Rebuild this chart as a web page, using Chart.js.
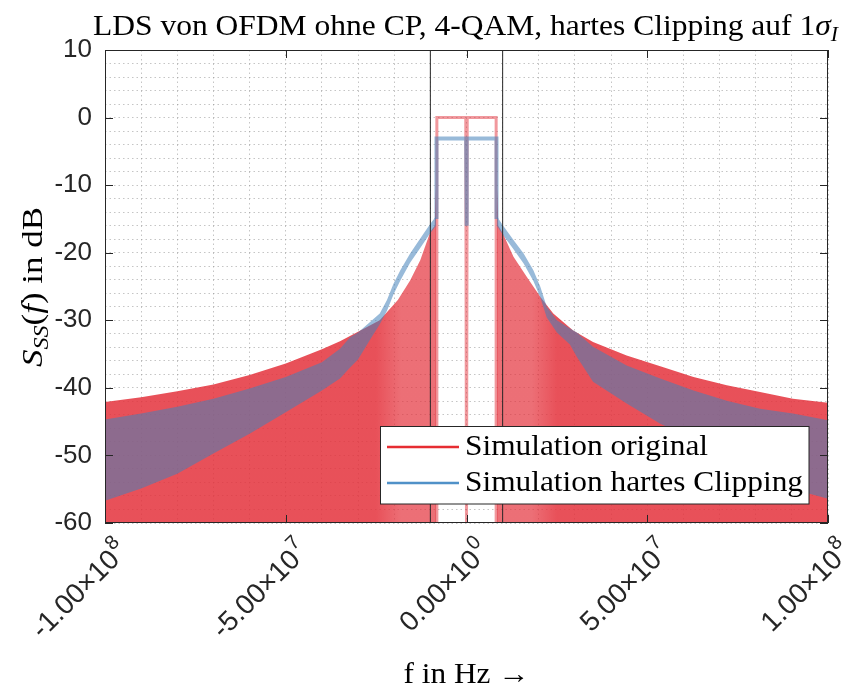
<!DOCTYPE html>
<html><head><meta charset="utf-8">
<script src="https://cdn.jsdelivr.net/npm/chart.js@4.4.0/dist/chart.umd.min.js"></script>
<style>html,body{margin:0;padding:0;background:#fff;overflow:hidden}#wrap{width:843px;height:689px}</style>
</head><body><div id="wrap"><canvas id="c" width="843" height="689"></canvas></div>
<script>
// ---------- tick labels ----------
const xMajorTicks = [-1e8, -5e7, 0, 5e7, 1e8];
const xTickLabels = ['-1.00×10^8', '-5.00×10^7', '0.00×10^0', '5.00×10^7', '1.00×10^8'];
const yMajorTicks = [-60, -50, -40, -30, -20, -10, 0, 10];
const yTickLabels = ['-60', '-50', '-40', '-30', '-20', '-10', '0', '10'];
const seriesNames = ['Simulation original', 'Simulation hartes Clipping'];
const markerFreqs = [-1e7, 1e7];

// ---------- original spectrum (red) ----------
const redBandFreq  = [-8.2e6, -8.2e6, -2e5, 0, 2e5, 8.2e6, 8.2e6];
const redBandLevel = [-60, 0, 0, -60, 0, 0, -60];
const redLeftFreq = [-1.0e8, -9.0e7, -8.0e7, -7.0e7, -6.0e7, -5.0e7, -4.0e7, -3.5e7, -3.0e7, -2.4e7, -1.9e7, -1.56e7, -1.28e7, -1.0e7, -8.8e6, -8.5e6, -8.35e6];
const redLeftTop  = [-42.1, -41.4, -40.5, -39.5, -38.1, -36.4, -34.3, -33.1, -31.7, -30.0, -27.0, -24.1, -21.1, -16.9, -16.0, -10.5, -14.0];
const redRightFreq = [8.35e6, 8.5e6, 8.8e6, 1.0e7, 1.3e7, 1.67e7, 2.04e7, 2.4e7, 2.95e7, 3.5e7, 4.43e7, 5.36e7, 6.28e7, 7.2e7, 8.12e7, 9.03e7, 1.0e8];
const redRightTop  = [-14.0, -10.5, -16.0, -17.1, -20.6, -23.6, -26.5, -29.0, -31.5, -33.2, -35.2, -36.8, -38.4, -39.6, -40.6, -41.6, -42.2];

// ---------- hard clipping spectrum (blue) ----------
const blueBandFreq  = [-8.3e6, -8.3e6, -1e5, 0, 1e5, 8.3e6, 8.3e6];
const blueBandLevel = [-15.0, -3.1, -3.1, -16.0, -3.1, -3.1, -15.0];
const blueLeftFreq  = [-1.0e8, -9.0e7, -8.0e7, -7.0e7, -6.0e7, -5.0e7, -4.0e7, -3.5e7, -3.22e7, -3.0e7, -2.66e7, -2.4e7, -2.2e7, -2.02e7, -1.83e7, -1.56e7, -1.28e7, -1.0e7, -8.4e6];
const blueLeftUpper = [-44.7, -43.8, -42.8, -41.6, -40.1, -38.4, -36.2, -34.2, -32.5, -31.8, -30.2, -29.0, -27.0, -24.6, -22.6, -20.1, -17.9, -15.7, -14.6];
const blueLeftLower = [-56.7, -54.9, -52.7, -49.7, -46.8, -43.6, -40.4, -38.6, -37.0, -35.8, -32.8, -30.6, -28.6, -26.2, -24.1, -21.5, -19.3, -17.1, -16.0];
const blueRightFreq  = [8.4e6, 1.0e7, 1.3e7, 1.58e7, 1.85e7, 2.04e7, 2.22e7, 2.5e7, 2.86e7, 3.05e7, 3.5e7, 4.43e7, 5.36e7, 6.28e7, 7.2e7, 8.12e7, 9.03e7, 1.0e8];
const blueRightUpper = [-14.6, -15.9, -18.1, -20.1, -22.6, -25.0, -28.0, -30.0, -31.2, -31.8, -33.9, -36.7, -38.6, -40.4, -41.9, -43.1, -43.8, -44.8];
const blueRightLower = [-16.0, -17.3, -19.5, -21.6, -24.2, -26.6, -29.6, -31.8, -33.6, -35.4, -39.1, -42.3, -45.3, -47.6, -50.4, -53.0, -55.0, -56.4];

// ---------- styles ----------
const RED_FILL = 'rgba(228,50,60,0.85)';
const RED_FILL_LIGHT = 'rgba(228,50,60,0.7)';
const RED_LINE = 'rgba(228,50,60,0.5)';
const BLUE_FILL = 'rgba(68,130,185,0.55)';
const RED_LEG = 'rgb(230,45,50)';
const BLUE_LEG = 'rgb(80,145,200)';
const AX = '#262626';
const SERIF = '"Liberation Serif", "DejaVu Serif", serif';
const SANS = '"Liberation Sans", Arial, sans-serif';

const pts = (xs, ys) => xs.map((v, i) => ({x: v, y: ys[i]}));
const base = {pointRadius: 0, tension: 0, borderJoinStyle: 'miter'};

// horizontal shading of red wings: slightly lighter close to the band edge (sparse sidelobes)
function redShade(c) {
  const chart = c.chart; const a = chart.chartArea;
  if (!a) return RED_FILL;
  const sx = chart.scales.x;
  const g = chart.ctx.createLinearGradient(a.left, 0, a.right, 0);
  const frac = f => Math.min(1, Math.max(0, (sx.getPixelForValue(f) - a.left) / (a.right - a.left)));
  g.addColorStop(0, RED_FILL);
  g.addColorStop(frac(-2.5e7), RED_FILL);
  g.addColorStop(frac(-1.8e7), RED_FILL_LIGHT);
  g.addColorStop(frac(1.8e7), RED_FILL_LIGHT);
  g.addColorStop(frac(2.5e7), RED_FILL);
  g.addColorStop(1, RED_FILL);
  return g;
}

const datasets = [
  ...markerFreqs.map(f => Object.assign({}, base, {data: [{x: f, y: -60}, {x: f, y: 10}], borderColor: AX, borderWidth: 1, fill: false, order: 0})),
  Object.assign({}, base, {data: pts(blueBandFreq, blueBandLevel), borderColor: BLUE_FILL, borderWidth: 4, fill: false, order: 1}),
  Object.assign({}, base, {data: pts(blueLeftFreq, blueLeftUpper), borderColor: 'transparent', borderWidth: 0, backgroundColor: BLUE_FILL, fill: {target: 4}, order: 2}),
  Object.assign({}, base, {data: pts(blueLeftFreq, blueLeftLower), borderColor: 'transparent', borderWidth: 0, fill: false, order: 2}),
  Object.assign({}, base, {data: pts(blueRightFreq, blueRightUpper), borderColor: 'transparent', borderWidth: 0, backgroundColor: BLUE_FILL, fill: {target: 6}, order: 2}),
  Object.assign({}, base, {data: pts(blueRightFreq, blueRightLower), borderColor: 'transparent', borderWidth: 0, fill: false, order: 2}),
  Object.assign({}, base, {data: pts(redBandFreq, redBandLevel), borderColor: RED_LINE, borderWidth: 3, fill: false, order: 3}),
  Object.assign({}, base, {data: pts(redLeftFreq, redLeftTop), borderColor: 'transparent', borderWidth: 0, backgroundColor: redShade, fill: 'start', order: 4}),
  Object.assign({}, base, {data: pts(redRightFreq, redRightTop), borderColor: 'transparent', borderWidth: 0, backgroundColor: redShade, fill: 'start', order: 4})
];

function drawRich(ctx, parts, size, x, y, targetW, align) {
  const fonts = parts.map(p => `${p.it ? 'italic ' : ''}${p.sub ? Math.round(size * 0.7) : size}px ${SERIF}`);
  let w = 0; const ws = [];
  parts.forEach((p, i) => { ctx.font = fonts[i]; const m = ctx.measureText(p.t).width; ws.push(m); w += m; });
  const sx = targetW ? targetW / w : 1;
  const total = w * sx;
  let start = align === 'center' ? x - total / 2 : x;
  ctx.save();
  ctx.translate(start, y);
  ctx.scale(sx, 1);
  ctx.textAlign = 'left'; ctx.textBaseline = 'alphabetic';
  let cx = 0;
  parts.forEach((p, i) => { ctx.font = fonts[i]; ctx.fillText(p.t, cx, p.sub ? size * 0.22 : 0); cx += ws[i]; });
  ctx.restore();
  return sx;
}

const deco = {
  id: 'deco',
  afterDatasetsDraw(chart) {
    const {ctx, chartArea: a, scales: {x, y}} = chart;
    ctx.save();
    ctx.strokeStyle = AX; ctx.lineWidth = 1;
    ctx.strokeRect(a.left + 0.5, a.top + 0.5, a.right - a.left - 1, a.bottom - a.top - 1);
    ctx.beginPath();
    xMajorTicks.forEach(v => { const px = Math.round(x.getPixelForValue(v)) + 0.5;
      ctx.moveTo(px, a.bottom); ctx.lineTo(px, a.bottom - 8); ctx.moveTo(px, a.top); ctx.lineTo(px, a.top + 8); });
    yMajorTicks.forEach(v => { const py = Math.round(y.getPixelForValue(v)) + 0.5;
      ctx.moveTo(a.left, py); ctx.lineTo(a.left + 8, py); ctx.moveTo(a.right, py); ctx.lineTo(a.right - 8, py); });
    ctx.stroke();
    ctx.restore();
  },
  afterDraw(chart) {
    const {ctx, chartArea: a, scales: {x}} = chart;
    ctx.save();
    ctx.fillStyle = AX;
    // rotated x tick labels with raised exponent
    xMajorTicks.forEach((v, i) => {
      const [mant, ex] = xTickLabels[i].split('^');
      const px = x.getPixelForValue(v);
      ctx.save();
      ctx.translate(px + 16, a.bottom + 38);
      ctx.rotate(-Math.PI / 4);
      ctx.textBaseline = 'alphabetic'; ctx.textAlign = 'left';
      ctx.font = `28px ${SANS}`;
      const mw = ctx.measureText(mant).width;
      ctx.fillText(mant, -mw, 0);
      ctx.font = `20px ${SANS}`;
      ctx.fillText(ex, 1, -13);
      ctx.restore();
    });
    ctx.fillStyle = '#000';
    // title
    drawRich(ctx, [{t: 'LDS von OFDM ohne CP, 4-QAM, hartes Clipping auf 1'}, {t: 'σ', it: true}, {t: 'I', it: true, sub: true}], 29, 93, 35, 745, 'left');
    // x label
    drawRich(ctx, [{t: 'f in Hz →'}], 29, (a.left + a.right) / 2, 683, 126, 'center');
    // y label
    ctx.save();
    ctx.translate(42, 367);
    ctx.rotate(-Math.PI / 2);
    drawRich(ctx, [{t: 'S', it: true}, {t: 'SS', it: true, sub: true}, {t: '('}, {t: 'f', it: true}, {t: ') in dB'}], 29, 0, 0, 160, 'left');
    ctx.restore();
    // legend
    const lx = 380.5, ly = 426.5, lw = 428.5, lh = 77.5;
    ctx.fillStyle = '#fff'; ctx.fillRect(lx, ly, lw, lh);
    ctx.strokeStyle = AX; ctx.lineWidth = 1; ctx.strokeRect(lx, ly, lw, lh);
    ctx.lineWidth = 2.5;
    ctx.strokeStyle = RED_LEG; ctx.beginPath(); ctx.moveTo(387, 447); ctx.lineTo(459, 447); ctx.stroke();
    ctx.strokeStyle = BLUE_LEG; ctx.beginPath(); ctx.moveTo(387, 483); ctx.lineTo(459, 483); ctx.stroke();
    ctx.fillStyle = '#000';
    const sx = drawRich(ctx, [{t: seriesNames[1]}], 29, 465, 491, 338, 'left');
    ctx.font = `29px ${SERIF}`;
    const w0 = ctx.measureText(seriesNames[0]).width * sx;
    drawRich(ctx, [{t: seriesNames[0]}], 29, 465, 455, w0, 'left');
    ctx.restore();
  }
};

const findLabel = (v, vals, labels) => { const i = vals.findIndex(t => Math.abs(t - v) < 1e-6 * Math.max(1, Math.abs(t))); return i >= 0 ? labels[i] : ''; };

new Chart(document.getElementById('c'), {
  type: 'line',
  data: {datasets},
  plugins: [deco],
  options: {
    responsive: false, animation: false, devicePixelRatio: 1,
    layout: {padding: {top: 50, right: 15, left: 0, bottom: 0}},
    plugins: {legend: {display: false}, tooltip: {enabled: false}, title: {display: false}},
    elements: {line: {borderCapStyle: 'butt'}},
    scales: {
      x: {
        type: 'linear', min: -1e8, max: 1e8,
        afterFit(s) { s.height = 166; s.paddingLeft = 0; s.paddingRight = 0; },
        ticks: {stepSize: 1e7, autoSkip: false, display: false, maxRotation: 0},
        grid: {color: 'rgba(150,150,150,0.55)', lineWidth: 1, drawTicks: false},
        border: {display: false, dash: [1.5, 3]}
      },
      y: {
        type: 'linear', min: -60, max: 10,
        afterFit(s) { s.width = 105; s.paddingTop = 0; s.paddingBottom = 0; },
        ticks: {stepSize: 2, autoSkip: false, padding: 13,
          font: {family: SANS, size: 26}, color: AX,
          callback: v => findLabel(v, yMajorTicks, yTickLabels)},
        grid: {color: 'rgba(150,150,150,0.55)', lineWidth: 1, drawTicks: false},
        border: {display: false, dash: [1.5, 3]}
      }
    }
  }
});
</script></body></html>
